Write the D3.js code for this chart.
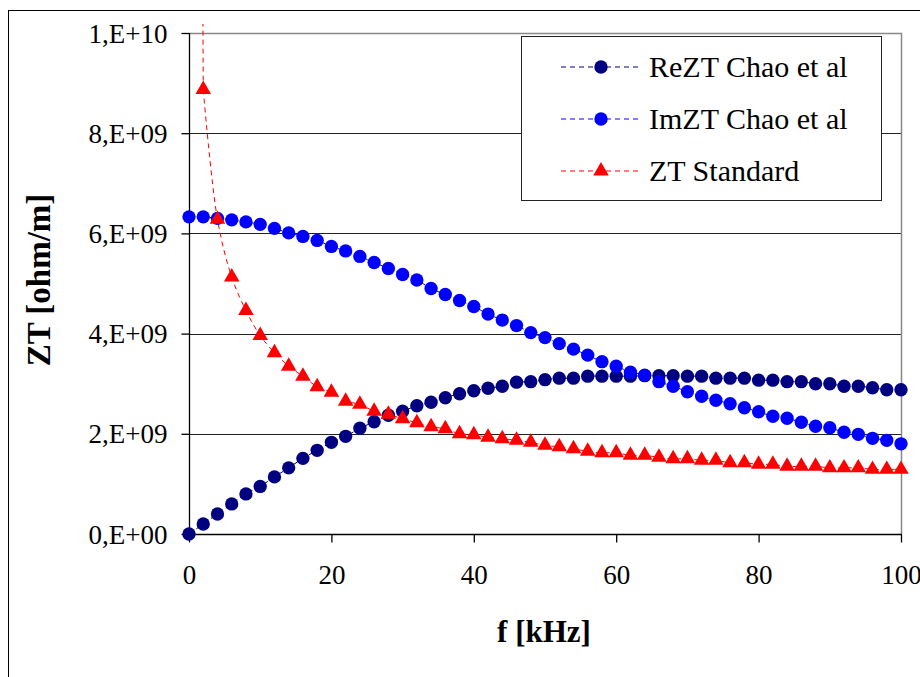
<!DOCTYPE html>
<html>
<head>
<meta charset="utf-8">
<script src="https://d3js.org/d3.v7.min.js"></script>
<style>
  body { margin: 0; background: #fff; }
  text { font-family: "Liberation Serif", "Times New Roman", serif; }
</style>
</head>
<body>
<svg id="chart"></svg>
<script>
var WIDTH = 920;
var HEIGHT = 677;
var FONT = '"Liberation Serif", "Times New Roman", serif';

// frequency in kHz
var freq = [0, 2, 4, 6, 8, 10, 12, 14, 16, 18, 20, 22, 24, 26, 28, 30, 32, 34, 36, 38, 40,
  42, 44, 46, 48, 50, 52, 54, 56, 58, 60, 62, 64, 66, 68, 70, 72, 74, 76, 78, 80,
  82, 84, 86, 88, 90, 92, 94, 96, 98, 100];

// values in 1e9 ohm/m
var reZT = [0, 0.20, 0.40, 0.60, 0.80, 0.95, 1.14, 1.32, 1.51, 1.67, 1.83, 1.95, 2.11, 2.24,
  2.37, 2.45, 2.56, 2.63, 2.72, 2.80, 2.86, 2.91, 2.95, 3.03, 3.04, 3.08, 3.11, 3.11, 3.15,
  3.15, 3.15, 3.15, 3.16, 3.16, 3.16, 3.15, 3.15, 3.11, 3.11, 3.11, 3.07, 3.07, 3.04, 3.04,
  3.00, 3.00, 2.95, 2.95, 2.92, 2.88, 2.88];

var imZT = [6.33, 6.33, 6.30, 6.27, 6.23, 6.18, 6.10, 6.01, 5.94, 5.86, 5.74, 5.65, 5.54,
  5.42, 5.30, 5.18, 5.07, 4.90, 4.78, 4.66, 4.54, 4.39, 4.27, 4.16, 4.02, 3.92, 3.80, 3.69,
  3.57, 3.44, 3.35, 3.23, 3.17, 3.04, 2.95, 2.84, 2.75, 2.67, 2.60, 2.52, 2.44, 2.35, 2.31,
  2.23, 2.15, 2.12, 2.03, 1.99, 1.91, 1.87, 1.80];

// no value at f = 0 (goes to infinity)
var ztStandard = [null, 8.87, 6.28, 5.13, 4.46, 3.96, 3.62, 3.35, 3.15, 2.94, 2.83, 2.65,
  2.59, 2.45, 2.39, 2.30, 2.22, 2.14, 2.10, 2.00, 1.98, 1.93, 1.90, 1.87, 1.83, 1.77, 1.74,
  1.70, 1.65, 1.62, 1.62, 1.57, 1.57, 1.53, 1.50, 1.50, 1.47, 1.47, 1.42, 1.42, 1.39, 1.39,
  1.35, 1.35, 1.35, 1.32, 1.32, 1.32, 1.29, 1.29, 1.29];

var seriesNames = ['ReZT Chao et al', 'ImZT Chao et al', 'ZT Standard'];
var seriesColors = ['#000080', '#0000ff', '#ff0000'];

var xTicks = [0, 20, 40, 60, 80, 100];
var yTicks = [0, 2e9, 4e9, 6e9, 8e9, 1e10];
var yTickLabels = ['0,E+00', '2,E+09', '4,E+09', '6,E+09', '8,E+09', '1,E+10'];

var svg = d3.select('#chart')
  .attr('width', WIDTH)
  .attr('height', HEIGHT);

// outer chart border
svg.append('rect')
  .attr('x', 8.5).attr('y', 10.5)
  .attr('width', WIDTH).attr('height', HEIGHT)
  .attr('fill', 'none')
  .attr('stroke', '#000')
  .attr('stroke-width', 1);

var plot = { left: 189, right: 901, top: 33, bottom: 534 };

var x = d3.scaleLinear().domain([0, 100]).range([plot.left, plot.right]);
var y = d3.scaleLinear().domain([0, 1e10]).range([plot.bottom, plot.top]);

// gridlines
svg.append('g')
  .selectAll('line')
  .data(yTicks.slice(1, -1))
  .enter()
  .append('line')
  .attr('x1', plot.left).attr('x2', plot.right)
  .attr('y1', function(d) { return Math.round(y(d)) + 0.5; })
  .attr('y2', function(d) { return Math.round(y(d)) + 0.5; })
  .attr('stroke', '#222')
  .attr('stroke-width', 1);

// plot area border (top, right)
svg.append('path')
  .attr('d', 'M' + plot.left + ',' + (plot.top + 0.5) + 'H' + (plot.right + 0.5) + 'V' + plot.bottom)
  .attr('fill', 'none')
  .attr('stroke', '#888')
  .attr('stroke-width', 1.5);

// axes
var leftAxis = d3.axisLeft(y)
  .tickValues(yTicks)
  .tickSize(8)
  .tickPadding(14)
  .tickFormat(function(d, i) { return yTickLabels[i]; });

var bottomAxis = d3.axisBottom(x)
  .tickValues(xTicks)
  .tickSize(8)
  .tickPadding(22)
  .tickFormat(function(d) { return d; });

var gy = svg.append('g')
  .attr('transform', 'translate(' + (plot.left + 0.5) + ',0)')
  .call(leftAxis);
var gx = svg.append('g')
  .attr('transform', 'translate(0,' + (plot.bottom + 0.5) + ')')
  .call(bottomAxis);

[gx, gy].forEach(function(g) {
  g.attr('font-family', null).attr('font-size', null);
  g.select('.domain').attr('stroke', '#000').attr('stroke-width', 1.3);
  g.selectAll('.tick line').attr('stroke', '#000').attr('stroke-width', 1.3);
  g.selectAll('.tick text')
    .attr('fill', '#000')
    .style('font-family', FONT)
    .style('font-size', '27px');
});
gx.select('.domain').attr('d', 'M' + plot.left + ',0H' + (plot.right + 1));
gy.select('.domain').attr('d', 'M0,' + plot.top + 'V' + (plot.bottom + 1));
gy.selectAll('.tick text').attr('dy', '0.34em');

// axis titles
svg.append('text')
  .attr('transform', 'translate(50,280) rotate(-90)')
  .attr('text-anchor', 'middle')
  .style('font-family', FONT)
  .style('font-size', '33px')
  .style('font-weight', 'bold')
  .text('ZT [ohm/m]');

svg.append('text')
  .attr('x', 544)
  .attr('y', 642)
  .attr('text-anchor', 'middle')
  .style('font-family', FONT)
  .style('font-size', '31px')
  .style('font-weight', 'bold')
  .text('f [kHz]');

// series
var series = [reZT, imZT, ztStandard].map(function(vals, i) {
  return {
    name: seriesNames[i],
    color: seriesColors[i],
    symbol: i === 2 ? d3.symbolTriangle : d3.symbolCircle,
    points: freq.map(function(f, j) {
      return { f: f, v: vals[j] === null ? null : vals[j] * 1e9 };
    })
  };
});

svg.append('clipPath').attr('id', 'clip')
  .append('rect')
  .attr('x', 0).attr('y', plot.top - 9)
  .attr('width', WIDTH).attr('height', HEIGHT);

var line = d3.line()
  .defined(function(d) { return d.v !== null; })
  .curve(d3.curveCatmullRom.alpha(0.5))
  .x(function(d) { return x(d.f); })
  .y(function(d) { return y(d.v); });

var linesG = svg.append('g').attr('clip-path', 'url(#clip)');
series.forEach(function(s) {
  linesG.append('path')
    .attr('d', line(s.points))
    .attr('fill', 'none')
    .attr('stroke', s.color)
    .attr('stroke-width', 1)
    .attr('stroke-dasharray', '5,4');
});

// ZT Standard rises towards infinity at f -> 0
var firstStd = series[2].points.filter(function(d) { return d.v !== null; })[0];
linesG.append('path')
  .attr('d', 'M' + x(firstStd.f) + ',' + y(firstStd.v) + 'L' + (x(firstStd.f) - 0.3) + ',' + (plot.top - 9))
  .attr('fill', 'none')
  .attr('stroke', series[2].color)
  .attr('stroke-width', 1)
  .attr('stroke-dasharray', '5,4');

series.forEach(function(s) {
  svg.append('g')
    .selectAll('path')
    .data(s.points.filter(function(d) { return d.v !== null; }))
    .enter()
    .append('path')
    .attr('d', d3.symbol().type(s.symbol).size(s.symbol === d3.symbolTriangle ? 105 : 140))
    .attr('transform', function(d) { return 'translate(' + x(d.f) + ',' + y(d.v) + ')'; })
    .attr('fill', s.color);
});

// legend
var legend = svg.append('g');
legend.append('rect')
  .attr('x', 521.5).attr('y', 36.5)
  .attr('width', 360).attr('height', 164)
  .attr('fill', '#fff')
  .attr('stroke', '#222')
  .attr('stroke-width', 1);

series.forEach(function(s, i) {
  var cy = 67 + i * 52;
  legend.append('line')
    .attr('x1', 561).attr('x2', 642)
    .attr('y1', cy).attr('y2', cy)
    .attr('stroke', s.color)
    .attr('stroke-width', 1)
    .attr('stroke-dasharray', '5,4');
  legend.append('path')
    .attr('d', d3.symbol().type(s.symbol).size(s.symbol === d3.symbolTriangle ? 105 : 140))
    .attr('transform', 'translate(601,' + cy + ')')
    .attr('fill', s.color);
  legend.append('text')
    .attr('x', 649)
    .attr('y', cy + 9.5)
    .style('font-family', FONT)
    .style('font-size', '30px')
    .attr('fill', '#000')
    .text(s.name);
});
</script>
</body>
</html>
